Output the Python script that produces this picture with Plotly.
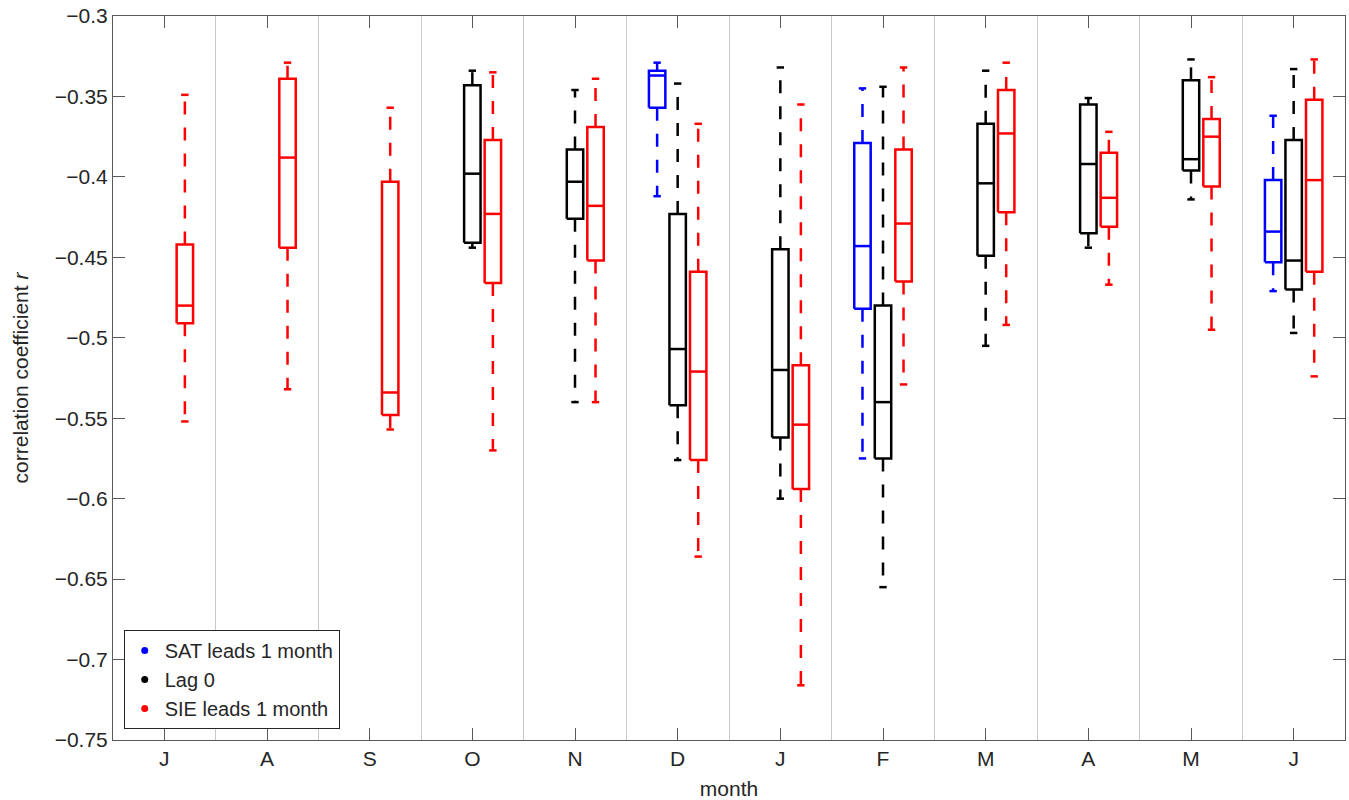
import plotly.graph_objects as go

# ---------------- data ----------------
month_labels = ["J", "A", "S", "O", "N", "D", "J", "F", "M", "A", "M", "J"]
month_index = list(range(1, 13))

# SAT leads 1 month (blue)
sat_months = [6, 8, 12]
sat_upper = [-0.329, -0.345, -0.362]
sat_q3 = [-0.334, -0.379, -0.402]
sat_median = [-0.337, -0.443, -0.434]
sat_q1 = [-0.357, -0.482, -0.453]
sat_lower = [-0.412, -0.575, -0.471]

# Lag 0 (black)
lag0_months = [4, 5, 6, 7, 8, 9, 10, 11, 12]
lag0_upper = [-0.334, -0.346, -0.342, -0.332, -0.344, -0.334, -0.351, -0.327, -0.333]
lag0_q3 = [-0.343, -0.383, -0.423, -0.445, -0.480, -0.367, -0.355, -0.340, -0.377]
lag0_median = [-0.398, -0.403, -0.507, -0.520, -0.540, -0.404, -0.392, -0.389, -0.452]
lag0_q1 = [-0.441, -0.426, -0.542, -0.562, -0.575, -0.449, -0.435, -0.396, -0.470]
lag0_lower = [-0.444, -0.540, -0.576, -0.600, -0.655, -0.505, -0.444, -0.414, -0.497]

# SIE leads 1 month (red)
sie_months = [1, 2, 3, 4, 5, 6, 7, 8, 9, 10, 11, 12]
sie_upper = [-0.349, -0.329, -0.357, -0.335, -0.339, -0.367, -0.355, -0.332, -0.329, -0.372, -0.338, -0.327]
sie_q3 = [-0.442, -0.339, -0.403, -0.377, -0.369, -0.459, -0.517, -0.383, -0.346, -0.385, -0.364, -0.352]
sie_median = [-0.480, -0.388, -0.534, -0.423, -0.418, -0.521, -0.554, -0.429, -0.373, -0.413, -0.375, -0.402]
sie_q1 = [-0.491, -0.444, -0.548, -0.466, -0.452, -0.576, -0.594, -0.465, -0.422, -0.431, -0.406, -0.459]
sie_lower = [-0.552, -0.532, -0.557, -0.570, -0.540, -0.636, -0.716, -0.529, -0.492, -0.467, -0.495, -0.524]

y_ticks = [-0.75, -0.7, -0.65, -0.6, -0.55, -0.5, -0.45, -0.4, -0.35, -0.3]
y_tick_text = ["\u22120.75", "\u22120.7", "\u22120.65", "\u22120.6", "\u22120.55",
               "\u22120.5", "\u22120.45", "\u22120.4", "\u22120.35", "\u22120.3"]

# ---------------- styling ----------------
FONT = "Liberation Sans, Arial, Helvetica, sans-serif"
FS = 21
TXT = "#262626"
AXC = "#5a5a5a"
HALF_W = 0.08
CAP_W = 0.036
LW = 2.5

series = [
    ("SAT leads 1 month", "#0000ff", -0.2, sat_months, sat_upper, sat_q3, sat_median, sat_q1, sat_lower),
    ("Lag 0", "#000000", 0.0, lag0_months, lag0_upper, lag0_q3, lag0_median, lag0_q1, lag0_lower),
    ("SIE leads 1 month", "#ff0000", 0.2, sie_months, sie_upper, sie_q3, sie_median, sie_q1, sie_lower),
]

fig = go.Figure()

for name, color, off, ms, up, q3, med, q1, lo in series:
    bx, by, wx, wy, cx, cy = [], [], [], [], [], []
    for m, u, a, md, b, l in zip(ms, up, q3, med, q1, lo):
        c = m + off
        # box
        bx += [c - HALF_W, c + HALF_W, c + HALF_W, c - HALF_W, c - HALF_W, None]
        by += [b, b, a, a, b, None]
        # median
        bx += [c - HALF_W, c + HALF_W, None]
        by += [md, md, None]
        # whiskers
        wx += [c, c, None, c, c, None]
        wy += [a, u, None, b, l, None]
        # caps
        cx += [c - CAP_W, c + CAP_W, None, c - CAP_W, c + CAP_W, None]
        cy += [u, u, None, l, l, None]
    fig.add_trace(go.Scatter(x=wx, y=wy, mode="lines", showlegend=False, hoverinfo="skip",
                             line=dict(color=color, width=LW, dash="13px,13px")))
    fig.add_trace(go.Scatter(x=cx, y=cy, mode="lines", showlegend=False, hoverinfo="skip",
                             line=dict(color=color, width=LW)))
    fig.add_trace(go.Scatter(x=bx, y=by, mode="lines", showlegend=False, hoverinfo="skip",
                             line=dict(color=color, width=LW)))

for name, color, *_ in series:
    fig.add_trace(go.Scatter(x=[None], y=[None], mode="markers", name=name,
                             marker=dict(color=color, size=7)))

fig.update_layout(
    width=1349, height=800,
    margin=dict(l=113, r=4, t=16, b=60, autoexpand=False),
    paper_bgcolor="white", plot_bgcolor="white",
    font=dict(family=FONT, size=FS, color=TXT),
    showlegend=True,
    legend=dict(x=0.0087, y=0.0152, xanchor="left", yanchor="bottom",
                bgcolor="white", bordercolor=TXT, borderwidth=1,
                font=dict(family=FONT, size=20, color=TXT),
                tracegroupgap=0, itemwidth=30),
)

fig.update_xaxes(
    range=[0.5, 12.5], tickmode="array", tickvals=month_index, ticktext=month_labels,
    ticks="inside", ticklen=12, tickwidth=1, tickcolor=AXC,
    showline=True, linecolor=AXC, linewidth=1, mirror="ticks",
    showgrid=False, zeroline=False, automargin=False,
    minor=dict(tick0=0.5, dtick=1, showgrid=True, gridcolor="#c8c8c8", gridwidth=1, ticklen=0),
    tickfont=dict(family=FONT, size=FS, color=TXT),
    title=dict(text="month", font=dict(family=FONT, size=FS, color=TXT), standoff=13),
)
fig.update_yaxes(
    range=[-0.75, -0.3], tickmode="array", tickvals=y_ticks, ticktext=y_tick_text,
    ticks="inside", ticklen=12, tickwidth=1, tickcolor=AXC,
    showline=True, linecolor=AXC, linewidth=1, mirror="ticks",
    showgrid=False, zeroline=False, automargin=False,
    tickfont=dict(family=FONT, size=FS, color=TXT),
    title=dict(text="correlation coefficient <i>r</i>", font=dict(family=FONT, size=FS, color=TXT), standoff=20),
)

fig.write_html(
    "out.html",
    config={"displayModeBar": False},
    post_script="document.body.style.margin='0';document.body.style.overflow='hidden';",
)
